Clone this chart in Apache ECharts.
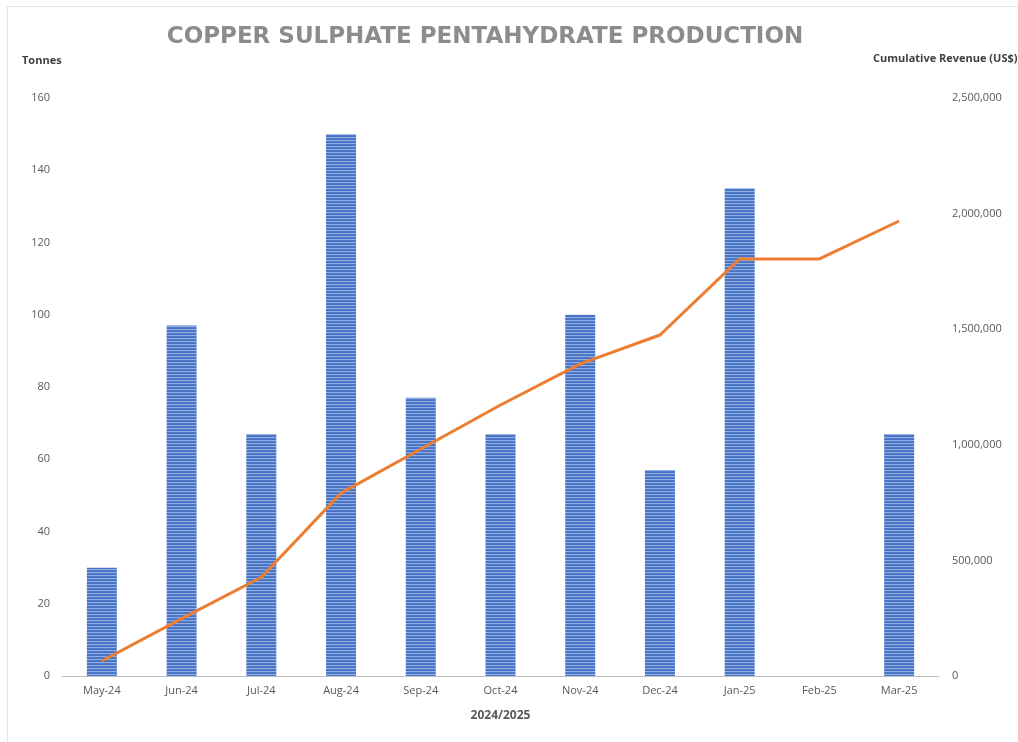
<!DOCTYPE html>
<html>
<head>
<meta charset="utf-8">
<script src="https://cdn.jsdelivr.net/npm/echarts@6/dist/echarts.min.js"></script>
<style>
html,body{margin:0;padding:0;background:#fff;}
#chart{width:1018px;height:742px;}
</style>
</head>
<body>
<div id="chart"></div>
<script>
const months = ['May-24','Jun-24','Jul-24','Aug-24','Sep-24','Oct-24','Nov-24','Dec-24','Jan-25','Feb-25','Mar-25'];
const tonnes = [30, 97, 67, 150, 77, 67, 100, 57, 135, 0, 67];
const cumulativeRevenue = [65000, 248000, 427000, 791000, 982000, 1172000, 1350000, 1475000, 1804000, 1804000, 1968000];

function stripePattern() {
  const c = document.createElement('canvas');
  c.width = 4; c.height = 3;
  const ctx = c.getContext('2d');
  const rows = ['#5079CA', '#4472C4', '#94AEE0'];
  rows.forEach((col, i) => { ctx.fillStyle = col; ctx.fillRect(0, i, 4, 1); });
  return c;
}

const chart = echarts.init(document.getElementById('chart'), null, {renderer: 'canvas'});
const labelFont = {color: '#595959', fontSize: 11, fontFamily: 'Open Sans'};

chart.setOption({
  animation: false,
  backgroundColor: '#fff',
  title: {
    text: 'COPPER SULPHATE PENTAHYDRATE PRODUCTION',
    left: 480, top: 21, textAlign: 'center',
    textStyle: {color: '#8C8C8C', fontSize: 23, fontWeight: 'bold', fontFamily: 'DejaVu Sans'}
  },
  graphic: [
    {type: 'line', shape: {x1: 7.5, y1: 6.5, x2: 1018, y2: 6.5}, style: {stroke: '#E3E3E3', lineWidth: 1}},
    {type: 'line', shape: {x1: 7.5, y1: 6.5, x2: 7.5, y2: 742}, style: {stroke: '#E3E3E3', lineWidth: 1}},
    {type: 'text', left: 22, top: 55, style: {text: 'Tonnes', fill: '#404040', font: 'bold 11px "Open Sans"'}},
    {type: 'text', left: 873, top: 53, style: {text: 'Cumulative Revenue (US$)', fill: '#404040', font: 'bold 11px "Open Sans"'}}
  ],
  grid: {left: 62, right: 79, top: 98, bottom: 66},
  xAxis: {
    type: 'category',
    data: months,
    name: '2024/2025',
    nameLocation: 'middle',
    nameGap: 34,
    nameTextStyle: {color: '#595959', fontSize: 12, fontWeight: 'bold', fontFamily: 'Open Sans'},
    axisLine: {lineStyle: {color: '#BFBFBF', width: 1}},
    axisTick: {show: false},
    axisLabel: Object.assign({margin: 9}, labelFont)
  },
  yAxis: [
    {
      type: 'value', min: 0, max: 160, interval: 20,
      splitLine: {show: false}, axisLine: {show: false}, axisTick: {show: false},
      axisLabel: Object.assign({margin: 12}, labelFont)
    },
    {
      type: 'value', min: 0, max: 2500000, interval: 500000, position: 'right',
      splitLine: {show: false}, axisLine: {show: false}, axisTick: {show: false},
      axisLabel: Object.assign({margin: 13, formatter: v => v.toLocaleString('en-US')}, labelFont)
    }
  ],
  series: [
    {
      name: 'Tonnes', type: 'bar', data: tonnes, barWidth: 30, yAxisIndex: 0,
      itemStyle: {color: {image: stripePattern(), repeat: 'repeat'}, borderWidth: 0}
    },
    {
      name: 'Cumulative Revenue', type: 'line', data: cumulativeRevenue, yAxisIndex: 1,
      showSymbol: false, symbol: 'none',
      lineStyle: {color: '#ED7D31', width: 3}
    }
  ]
});
</script>
</body>
</html>
